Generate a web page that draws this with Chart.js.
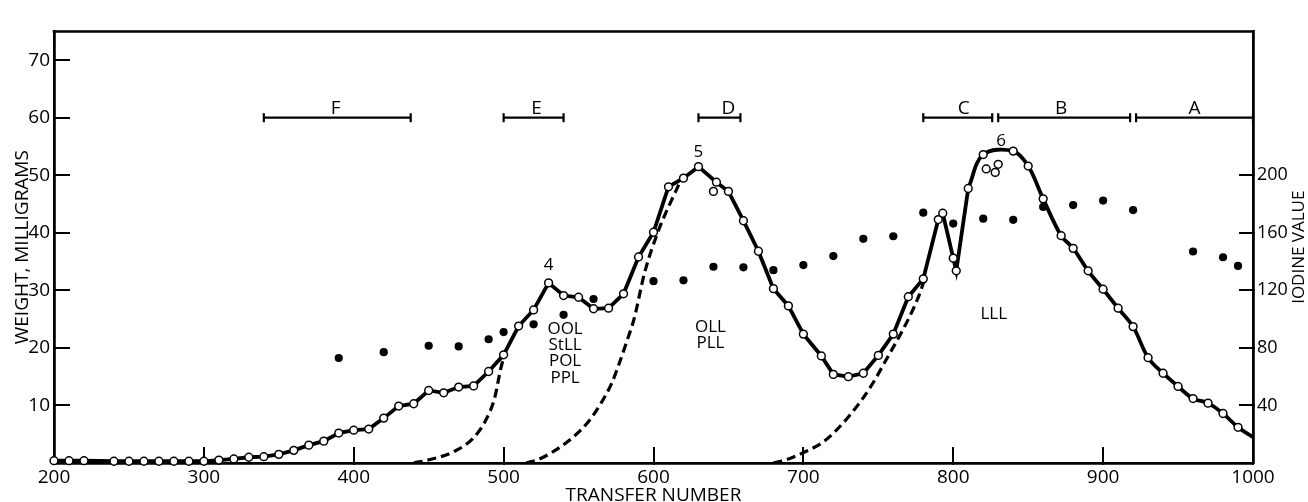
<!DOCTYPE html>
<html><head><meta charset="utf-8">
<script src="https://cdn.jsdelivr.net/npm/chart.js@4.4.1/dist/chart.umd.min.js"></script>
<style>html,body{margin:0;padding:0;background:#fff}#wrap{width:1308px;height:502px}</style>
</head><body><div id="wrap"><canvas id="c" width="1308" height="502"></canvas></div>
<script>
// ---- data ----
const weightX = [200,210,220,240,250,260,270,280,290,300,310,320,330,340,350,360,370,380,390,400,410,420,430,440,450,460,470,480,490,500,510,520,530,540,550,560,570,580,590,600,610,620,630,642,650,660,670,680,690,700,712,720,730,740,750,760,770,780,790,793,800,802,810,820,840,850,860,872,880,890,900,910,920,930,940,950,960,970,980,990];
const weightY = [0.4,0.4,0.4,0.3,0.3,0.3,0.3,0.3,0.3,0.3,0.5,0.7,1.0,1.1,1.5,2.2,3.1,3.8,5.2,5.7,5.9,7.8,9.9,10.3,12.6,12.2,13.2,13.4,15.9,18.8,23.8,26.6,31.3,29.1,28.8,26.8,26.9,29.4,35.8,40.1,48.0,49.5,51.5,48.8,47.2,42.1,36.8,30.3,27.3,22.4,18.6,15.4,15.0,15.6,18.7,22.4,28.9,32.0,42.3,43.4,35.6,33.4,47.7,53.6,54.2,51.6,45.9,39.5,37.3,33.4,30.2,26.9,23.7,18.3,15.6,13.3,11.2,10.4,8.6,6.2];
const smoothFrom = 810;            // curve is drawn smooth from this transfer number on
const curveEndX = 1000, curveEndY = 4.5;
const extraX = [640,822,828,830];
const extraY = [47.2,51.1,50.5,51.9];
const iodineX = [390,420,450,470,490,500,520,540,560,600,620,640,660,680,700,720,740,760,780,800,820,840,860,880,900,920,960,980,990];
const iodineY = [73,77,81.5,81,86,91,96.4,103,114,126.4,127,136.4,136,134,137.6,143.8,155.8,157.6,174,166.4,169.8,169,178,179.3,182.4,175.8,147,143,137];
const dash1X = [440,451,467,480,488,494,498,501];
const dash1Y = [0,0.6,2.0,4.4,7.4,11.3,16.3,19.2];
const dash2X = [515,522,532,545,556,565,572,577,582,587,594,603,610,618];
const dash2Y = [0,0.5,1.8,4.2,7,10.4,13.8,17.2,21,25,33,40.2,44.5,49];
const dash3X = [680,690,700,714,731,745,756,764,771,777,781];
const dash3Y = [0,0.7,1.8,3.8,8.3,13.3,18.3,22,25.5,29,32];
const bracketStart = [340,500,630,780,830,922];
const bracketEnd   = [438,540,658,826,918,1000];
const bracketNames = ['F','E','D','C','B','A'];
const bracketNameX = [388,522,650,807,872,961];
const bracketLevel = 60;
const annotText = ['4','5','6','OOL','StLL','POL','PPL','OLL','PLL','LLL'];
const annotX = [530,630,832,541,541,541,541,638,638,827];
const annotY = [34.4,54.1,56,23.3,20.5,17.7,14.8,23.6,20.8,25.8];
const xTicks = [200,300,400,500,600,700,800,900,1000];
const weightTicks = [10,20,30,40,50,60,70];
const iodineTicks = [40,80,120,160,200];

// ---- build ----
const FONT = '"Open Sans", "DejaVu Sans", sans-serif';
const pts = (xs, ys) => xs.map((x,i)=>({x, y: ys[i]}));
const allCurve = pts(weightX, weightY);
const straightPart = allCurve.filter(p => p.x <= smoothFrom);
const smoothPart = allCurve.filter(p => p.x >= smoothFrom).concat([{x: curveEndX, y: curveEndY}]);
const plain = v => String(v);

const datasets = [];
datasets.push({ data: pts(weightX, weightY).concat(pts(extraX, extraY)), showLine:false, pointRadius:3.9,
  pointBackgroundColor:'#fff', pointBorderColor:'#000', pointBorderWidth:1.5, clip:false, yAxisID:'y' });
datasets.push({ data: pts(iodineX, iodineY), showLine:false, pointRadius:4.1, pointBackgroundColor:'#000',
  pointBorderColor:'#000', pointBorderWidth:0, yAxisID:'y2' });
datasets.push({ data: straightPart, showLine:true, pointRadius:0, borderColor:'#000', borderWidth:3.8, tension:0, yAxisID:'y' });
datasets.push({ data: smoothPart, showLine:true, pointRadius:0, borderColor:'#000', borderWidth:3.8, tension:0.35, yAxisID:'y' });
[[dash1X,dash1Y],[dash2X,dash2Y],[dash3X,dash3Y]].forEach(([xs,ys]) => {
  datasets.push({ data: pts(xs,ys), showLine:true, pointRadius:0, borderColor:'#000', borderWidth:3.2,
    borderDash:[9,5], cubicInterpolationMode:'monotone', yAxisID:'y' });
});
bracketStart.forEach((s,i) => {
  datasets.push({ data:[{x:s,y:bracketLevel},{x:bracketEnd[i],y:bracketLevel}], showLine:true, borderColor:'#000',
    borderWidth:2.2, pointStyle:'line', pointRotation:90, pointRadius:4.5, pointBorderWidth:2.2, pointBorderColor:'#000', clip:false, yAxisID:'y' });
});

const overlay = {
  id:'overlay',
  afterDatasetsDraw(chart) {
    const {ctx, chartArea, scales} = chart;
    const sx = scales.x, sy = scales.y;
    ctx.save();
    ctx.strokeStyle = '#000'; ctx.lineWidth = 2.5;
    ctx.beginPath(); ctx.moveTo(chartArea.left-1.25, chartArea.top); ctx.lineTo(chartArea.right+1.25, chartArea.top); ctx.stroke();
    ctx.fillStyle = '#000'; ctx.textAlign = 'center';
    ctx.font = '19px ' + FONT; ctx.textBaseline = 'alphabetic';
    bracketNames.forEach((t,i) => ctx.fillText(t, sx.getPixelForValue(bracketNameX[i]), sy.getPixelForValue(bracketLevel) - 4));
    ctx.font = '17px ' + FONT; ctx.textBaseline = 'middle';
    annotText.forEach((t,i) => ctx.fillText(t, sx.getPixelForValue(annotX[i]), sy.getPixelForValue(annotY[i])));
    const r = scales.y2;
    ctx.translate(r.right - 9, (chartArea.top + chartArea.bottom)/2);
    ctx.rotate(-Math.PI/2);
    ctx.font = '17px ' + FONT;
    ctx.fillText('IODINE VALUE', 0, 0);
    ctx.restore();
  }
};

new Chart(document.getElementById('c'), {
  type:'scatter',
  data:{ datasets },
  options:{
    responsive:false, animation:false, devicePixelRatio:1,
    layout:{ padding:{ top:13, left:0, right:0, bottom:0 } },
    plugins:{ legend:{display:false}, tooltip:{enabled:false} },
    scales:{
      x:{ type:'linear', min:200, max:1000,
        afterBuildTicks: s => { s.ticks = xTicks.map(v => ({value:v})); },
        ticks:{ font:{family:FONT, size:19}, color:'#000', padding:19, maxRotation:0, autoSkip:false, callback: plain },
        grid:{ drawOnChartArea:false, tickLength:-16, tickColor:'#000', tickWidth:2, lineWidth:2 },
        border:{ color:'#000', width:2.8 },
        title:{ display:true, text:'TRANSFER NUMBER', font:{family:FONT, size:19}, color:'#000', padding:{top:0, bottom:-5} },
        afterFit: s => { s.height = 39; } },
      y:{ position:'left', min:0, max:75,
        afterBuildTicks: s => { s.ticks = weightTicks.map(v => ({value:v})); },
        ticks:{ font:{family:FONT, size:19}, color:'#000', padding:20, callback: plain },
        grid:{ drawOnChartArea:false, tickLength:-16, tickColor:'#000', tickWidth:2, lineWidth:2 },
        border:{ color:'#000', width:2.8 },
        title:{ display:true, text:'WEIGHT, MILLIGRAMS', font:{family:FONT, size:19}, color:'#000', padding:{top:11, bottom:0} },
        afterFit: s => { s.width = 54; } },
      y2:{ position:'right', min:0, max:300,
        afterBuildTicks: s => { s.ticks = iodineTicks.map(v => ({value:v})); },
        ticks:{ font:{family:FONT, size:18}, color:'#000', padding:18, callback: plain },
        grid:{ drawOnChartArea:false, tickLength:-14, tickColor:'#000', tickWidth:2, lineWidth:2 },
        border:{ color:'#000', width:2.8 },
        afterFit: s => { s.width = 55; } }
    }
  },
  plugins:[overlay]
});
</script>
</body></html>
